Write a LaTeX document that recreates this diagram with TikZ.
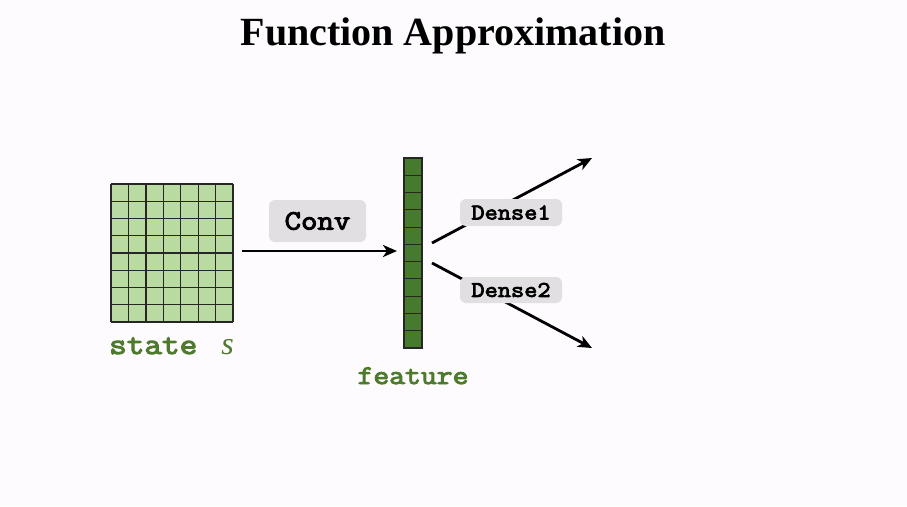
\documentclass[tikz,border=0pt]{standalone}
\usepackage{fontspec}
\setmainfont{Liberation Serif}
\setmonofont{Latin Modern Mono}[BoldFont={Latin Modern Mono}, BoldFeatures={FakeBold=3.5, FakeStretch=1.14}]
\usetikzlibrary{arrows.meta}
\definecolor{bg}{HTML}{FDFBFD}
\definecolor{cellgreen}{HTML}{B9DBA2}
\definecolor{featgreen}{HTML}{467A2C}
\definecolor{labelgreen}{HTML}{4E7A2E}
\definecolor{tagfill}{HTML}{E2DFE2}
\tikzset{
  tag/.style={fill=tagfill, rounded corners=6pt, inner sep=0pt, font=\ttfamily\bfseries},
  flow/.style={line width=2.8pt, -{Stealth[length=14pt,width=12pt,inset=4pt]}},
  caption/.style={text=labelgreen, font=\ttfamily\bfseries, inner sep=0pt, anchor=base},
  gridline/.style={line width=1.3pt, black!85},
}
\begin{document}
\begin{tikzpicture}[x=1pt,y=-1pt]
  \fill[bg] (0,0) rectangle (907,506);
  \useasboundingbox (0,0) rectangle (907,506);

  % title
  \node[font=\bfseries\fontsize{40}{44}\selectfont, anchor=base, inner sep=0pt] (title) at (453,45) {Function Approximation};

  % input state grid (7 x 8)
  \fill[cellgreen] (111,184) rectangle (233,322);
  \foreach \i in {0,...,7} \draw[gridline] (111+\i*17.43,184) -- (111+\i*17.43,322);
  \foreach \j in {0,...,8} \draw[gridline] (111,184+\j*17.25) -- (233,184+\j*17.25);
  \node[caption, anchor=base west, font=\ttfamily\bfseries\fontsize{30}{32}\selectfont] (state) at (109,354) {state\hspace{24pt}\textnormal{\itshape\fontsize{32}{34}\selectfont s}};

  % feature column (11 cells)
  \fill[featgreen] (404,158) rectangle (422,348);
  \foreach \j in {0,...,11} \draw[line width=1pt, black!85] (404,158+\j*17.27) -- (422,158+\j*17.27);
  \draw[line width=1.2pt, black!85] (404,158) rectangle (422,348);
  \node[caption, font=\ttfamily\bfseries\fontsize{27}{30}\selectfont] (feature) at (413,384) {feature};

  % connectors
  \coordinate (gridE) at (242,251);
  \coordinate (featW) at (397,251);
  \draw[flow] (gridE) -- (featW);
  \coordinate (d1s) at (432,243);
  \coordinate (d1e) at (592,158);
  \coordinate (d2s) at (432,263);
  \coordinate (d2e) at (592,348);
  \draw[flow] (d1s) -- (d1e);
  \draw[flow] (d2s) -- (d2e);

  % layer labels
  \node[tag, minimum width=97pt, minimum height=42pt, font=\ttfamily\bfseries\fontsize{28}{30}\selectfont] (conv) at (317.5,221) {Conv};
  \node[tag, minimum width=102pt, minimum height=27pt, font=\ttfamily\bfseries\fontsize{22.5}{26}\selectfont] (dense1) at (511,212.5) {Dense1};
  \node[tag, minimum width=102pt, minimum height=26pt, font=\ttfamily\bfseries\fontsize{22.5}{26}\selectfont] (dense2) at (511,290) {Dense2};
\end{tikzpicture}
\end{document}
